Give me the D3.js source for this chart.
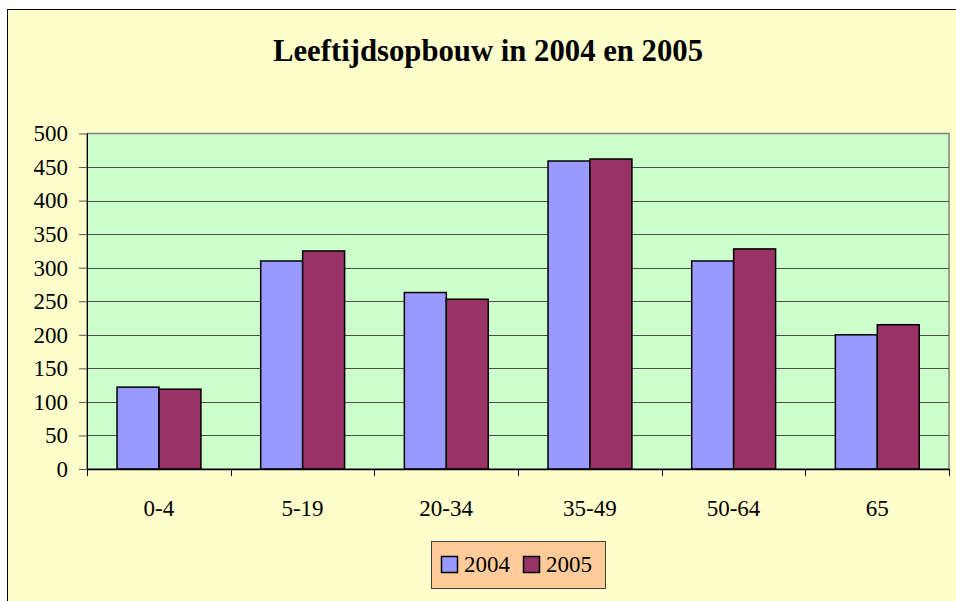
<!DOCTYPE html>
<html>
<head>
<meta charset="utf-8">
<script src="https://cdn.jsdelivr.net/npm/d3@7"></script>
<style>
  body { margin: 0; background: #fff; }
  svg { display: block; }
  text { font-family: "Liberation Serif", "Times New Roman", serif; fill: #000; }
</style>
</head>
<body>
<svg width="956" height="601"></svg>
<script>
// Data
const categories = ["0-4", "5-19", "20-34", "35-49", "50-64", "65"];
const series = ["2004", "2005"];
const values2004 = [122, 310, 263, 459, 310, 200];
const values2005 = [119, 325, 253, 462, 328, 215];
const yTicks = [0, 50, 100, 150, 200, 250, 300, 350, 400, 450, 500];
const colors = ["#9999FF", "#993366"];

const serif = "'Liberation Serif', 'Times New Roman', serif";
const plot = { left: 87, right: 949, top: 133.5, bottom: 469 };

const svg = d3.select("svg");

// Chart area (runs past the picture on the right and bottom)
svg.append("rect")
    .attr("x", 7.5).attr("y", 9.5)
    .attr("width", 1000).attr("height", 700)
    .attr("fill", "#FFFFCC")
    .attr("stroke", "#000");

// Title
svg.append("text")
    .attr("x", 488)
    .attr("y", 61)
    .attr("text-anchor", "middle")
    .attr("font-size", 32)
    .attr("font-weight", "bold")
    .attr("textLength", 430)
    .attr("lengthAdjust", "spacingAndGlyphs")
    .style("font-family", serif)
    .text("Leeftijdsopbouw in 2004 en 2005");

// Scales
const x0 = d3.scaleBand()
    .domain(categories)
    .range([plot.left, plot.right])
    .padding(0);

const bw = x0.bandwidth();
const x1 = d3.scaleBand()
    .domain(series)
    .range([bw * 0.209, bw * 0.793]);

const y = d3.scaleLinear()
    .domain([0, 500])
    .range([plot.bottom, plot.top]);

// Plot area
svg.append("rect")
    .attr("x", plot.left).attr("y", plot.top)
    .attr("width", plot.right - plot.left)
    .attr("height", plot.bottom - plot.top)
    .attr("fill", "#CCFFCC")
    .attr("stroke", "#808080")
    .attr("stroke-width", 1.5);

// Gridlines
svg.append("g")
    .selectAll("line")
    .data(yTicks.filter(d => d > 0 && d < 500))
    .enter()
    .append("line")
    .attr("x1", plot.left).attr("x2", plot.right)
    .attr("y1", d => Math.round(y(d)) + 0.5)
    .attr("y2", d => Math.round(y(d)) + 0.5)
    .attr("stroke", "#4d4d4d")
    .attr("stroke-width", 1);

// Bars
const rows = categories.map((c, i) => ({ cat: c, vals: [values2004[i], values2005[i]] }));

const groups = svg.append("g")
    .selectAll("g")
    .data(rows)
    .enter()
    .append("g")
    .attr("transform", d => `translate(${x0(d.cat)},0)`);

groups.selectAll("rect")
    .data(d => d.vals.map((v, j) => ({ key: series[j], value: v })))
    .enter()
    .append("rect")
    .attr("x", d => x1(d.key))
    .attr("y", d => y(d.value))
    .attr("width", x1.bandwidth())
    .attr("height", d => y(0) - y(d.value))
    .attr("fill", (d, j) => colors[j])
    .attr("stroke", "#000")
    .attr("stroke-width", 1.5);

// Y axis
const yAxis = svg.append("g")
    .attr("transform", `translate(${plot.left},0)`)
    .call(d3.axisLeft(y).tickValues(yTicks).tickSize(8).tickPadding(11));
yAxis.attr("font-family", null).attr("font-size", null);
yAxis.selectAll("text").attr("font-size", 23).style("font-family", serif);
yAxis.selectAll("line").attr("stroke", "#555");
yAxis.select(".domain").attr("stroke", "#000").attr("d", `M0.5,${plot.top}V${plot.bottom + 7}`);

// X axis labels
const xAxis = svg.append("g")
    .attr("transform", `translate(0,${plot.bottom})`)
    .call(d3.axisBottom(x0).tickSize(0).tickPadding(31));
xAxis.attr("font-family", null).attr("font-size", null);
xAxis.selectAll("text").attr("font-size", 23).style("font-family", serif);
xAxis.select(".domain").attr("stroke", "#000").attr("stroke-width", 1.5)
    .attr("d", `M${plot.left},0.5H${plot.right}`);

// X boundary ticks
svg.append("g")
    .selectAll("line")
    .data(categories.map(c => x0(c)).concat([plot.right]))
    .enter()
    .append("line")
    .attr("x1", d => Math.round(d) + 0.5).attr("x2", d => Math.round(d) + 0.5)
    .attr("y1", plot.bottom).attr("y2", plot.bottom + 7)
    .attr("stroke", "#000");

// Legend
const legend = svg.append("g");
legend.append("rect")
    .attr("x", 431.5).attr("y", 541.5)
    .attr("width", 174).attr("height", 47)
    .attr("fill", "#FFCC99")
    .attr("stroke", "#404040");

const legendX = [441, 523];
series.forEach((s, i) => {
    legend.append("rect")
        .attr("x", legendX[i] + 0.5).attr("y", 556.5)
        .attr("width", 16).attr("height", 16)
        .attr("fill", colors[i])
        .attr("stroke", "#000")
        .attr("stroke-width", 1.5);
    legend.append("text")
        .attr("x", legendX[i] + 23)
        .attr("y", 572)
        .attr("font-size", 23)
        .style("font-family", serif)
        .text(s);
});
</script>
</body>
</html>
